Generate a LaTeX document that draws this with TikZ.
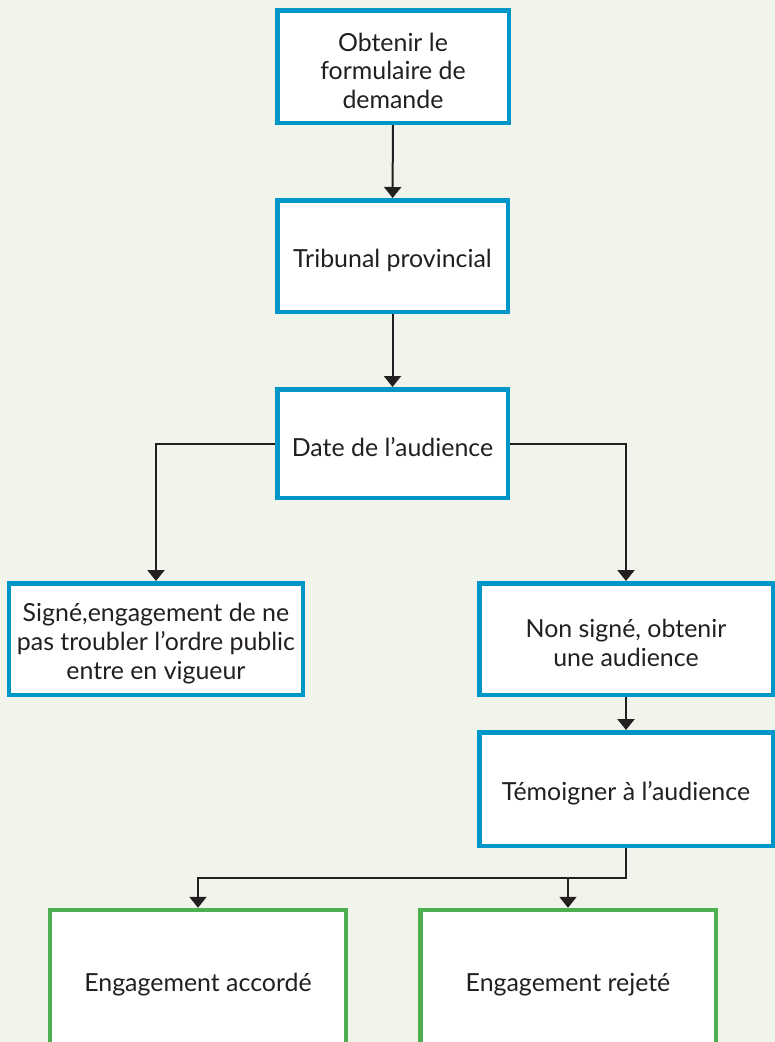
\documentclass[tikz,border=0pt]{standalone}
\usepackage{fontspec}
\setmainfont{Lato}
\usepackage{tikz}
\usetikzlibrary{arrows.meta}
\definecolor{bgcol}{RGB}{241,244,234}
\definecolor{stepblue}{RGB}{0,150,199}
\definecolor{stepgreen}{RGB}{76,175,80}
\definecolor{inkcol}{RGB}{35,31,32}
\newcommand\boxstrut{\rule{0pt}{27bp}}
\tikzstyle{box}=[draw=stepblue,fill=white,line width=4.5bp,align=center,text=inkcol,font=\fontsize{25}{29}\selectfont,inner sep=0pt,execute at begin node=\boxstrut]
\tikzstyle{okbox}=[box,draw=stepgreen]
\tikzstyle{arr}=[draw=inkcol,line width=2bp,-{Triangle[width=17bp,length=11bp]}]
\begin{document}
\begin{tikzpicture}[x=1bp,y=-1bp]
	\fill[bgcol] (0,0) rectangle (775,1042);
	\useasboundingbox (0,0) rectangle (775,1042);
	\clip (0,0) rectangle (775,1042);
	\node[box,minimum width=231.5bp,minimum height=112.5bp] (form) at (393,66.5) {\boxstrut Obtenir le\\formulaire de\\demande};
	\node[box,minimum width=230.5bp,minimum height=111.5bp] (court) at (392.5,256) {Tribunal provincial};
	\node[box,minimum width=230.5bp,minimum height=108.5bp] (date) at (392.5,443.5) {Date de l’audience};
	\node[box,minimum width=293.5bp,minimum height=111.5bp] (signed) at (156,639) {\boxstrut Signé,engagement de ne\\pas troubler l’ordre public\\entre en vigueur};
	\node[box,minimum width=293.5bp,minimum height=111.5bp] (unsigned) at (626,639) {\boxstrut Non signé, obtenir\\une audience};
	\node[box,minimum width=293.5bp,minimum height=113.5bp] (testify) at (626,789) {Témoigner à l’audience};
	\node[okbox,minimum width=295.5bp,minimum height=140bp] (granted) at (198,980) {Engagement accordé};
	\node[okbox,minimum width=295.5bp,minimum height=140bp] (refused) at (568,980) {Engagement rejeté};
	\draw[arr] (form) -- (court);
	\draw[arr] (court) -- (date);
	\draw[arr] (date.west) -| (signed.north);
	\draw[arr] (date.east) -| (unsigned.north);
	\draw[arr] (unsigned) -- (testify);
	\path (testify.south) ++(0,30) coordinate (split);
	\draw[arr] (testify.south) -- (split) -| (granted.north);
	\draw[arr] (split) -| (refused.north);
\end{tikzpicture}
\end{document}
